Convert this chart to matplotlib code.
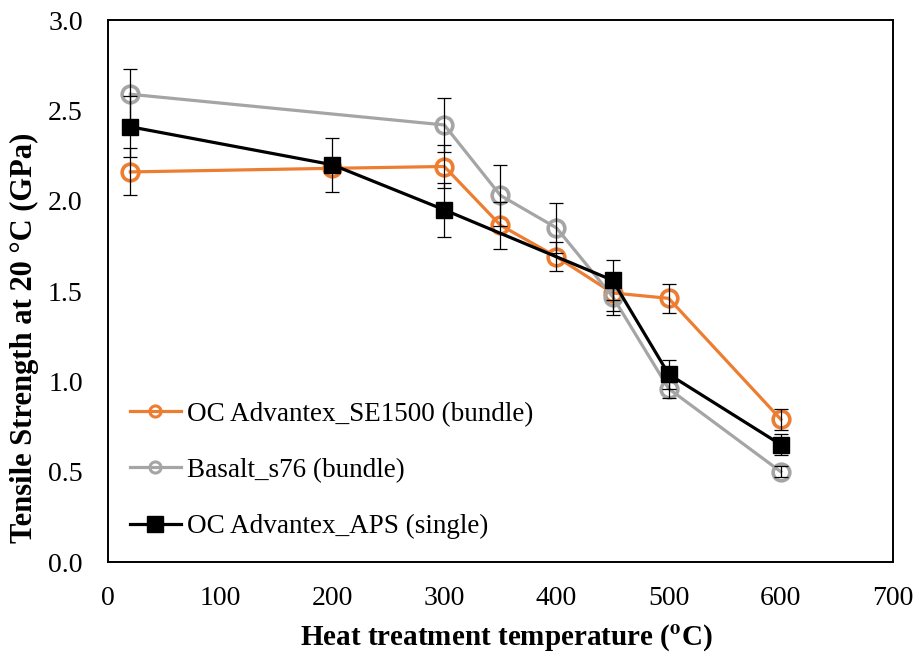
import matplotlib
matplotlib.use('Agg')
import matplotlib.pyplot as plt

plt.rcParams['font.family'] = ['Liberation Serif', 'DejaVu Serif']
plt.rcParams['mathtext.fontset'] = 'stix'

# OC Advantex_SE1500 (bundle)
se_temp = [20, 200, 300, 350, 400, 450, 500, 600]
se_strength = [2.16, 2.18, 2.19, 1.865, 1.69, 1.49, 1.46, 0.79]
se_err = [0.13, 0.0, 0.12, 0.13, 0.08, 0.10, 0.08, 0.06]

# Basalt_s76 (bundle)
bs_temp = [20, 300, 350, 400, 450, 500, 600]
bs_strength = [2.59, 2.42, 2.03, 1.85, 1.47, 0.96, 0.50]
bs_err = [0.14, 0.15, 0.17, 0.14, 0.10, 0.05, 0.03]

# OC Advantex_APS (single)
aps_temp = [20, 200, 300, 450, 500, 600]
aps_strength = [2.41, 2.20, 1.95, 1.56, 1.04, 0.65]
aps_err = [0.17, 0.15, 0.15, 0.11, 0.08, 0.06]

labels = ['OC Advantex_SE1500 (bundle)', 'Basalt_s76 (bundle)', 'OC Advantex_APS (single)']

fig = plt.figure(figsize=(9.14, 6.52), dpi=100)
ax = fig.add_axes([0.118, 0.138, 0.859, 0.831])

ax.plot(se_temp, se_strength, color='#ED7D31', lw=2.3, marker='o', ms=12,
        mfc='none', mec='#ED7D31', mew=2.6, label=labels[0], zorder=3)
ax.plot(bs_temp, bs_strength, color='#A5A5A5', lw=2.3, marker='o', ms=12,
        mfc='none', mec='#A5A5A5', mew=2.6, label=labels[1], zorder=4)
ax.plot(aps_temp, aps_strength, color='black', lw=2.3, marker='s', ms=12,
        label=labels[2], zorder=5)

for t, s, e in [(se_temp, se_strength, se_err), (bs_temp, bs_strength, bs_err),
                (aps_temp, aps_strength, aps_err)]:
    ax.errorbar(t, s, yerr=e, fmt='none', ecolor='black', elinewidth=0.9,
                capsize=5, capthick=0.9, zorder=6)

ax.set_xlim(0, 700)
ax.set_ylim(0, 3.0)
ax.set_xticks(range(0, 701, 100))
ax.set_yticks([0, 0.5, 1.0, 1.5, 2.0, 2.5, 3.0])
ax.set_yticklabels([f'{v:.1f}' for v in ax.get_yticks()])
ax.tick_params(axis='y', length=0, labelsize=20, pad=18)
ax.tick_params(axis='x', length=0, labelsize=20, pad=17)
for sp in ax.spines.values():
    sp.set_linewidth(1.4)

ax.set_xlabel(r'Heat treatment temperature ($^{\mathbf{o}}$C)', fontsize=21,
              fontweight='bold')
ax.set_ylabel('Tensile Strength at 20 °C (GPa)', fontsize=22, fontweight='bold')
ax.xaxis.set_label_coords(0.508, -0.112)
ax.yaxis.set_label_coords(-0.088, 0.413)

leg = ax.legend(loc='center left', bbox_to_anchor=(0.014, 0.169), borderaxespad=0,
                frameon=False, fontsize=19.5, handlelength=1.9, labelspacing=1.15,
                handletextpad=0.2)
for h, size in zip(leg.legend_handles, [8, 8, 11.5]):
    h.set_markersize(size)
    h.set_markeredgewidth(2.2 if size < 10 else 1.0)

fig.savefig('out.png', dpi=100)
